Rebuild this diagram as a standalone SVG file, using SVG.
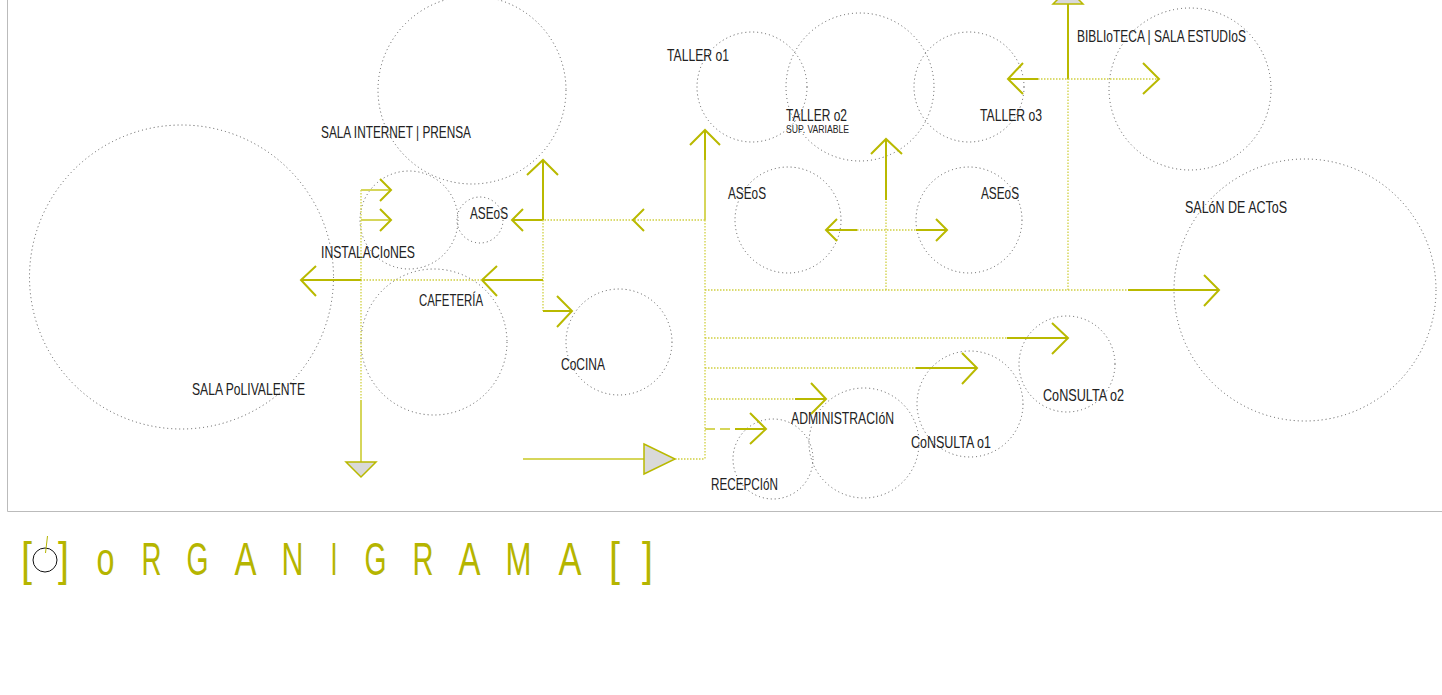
<svg xmlns="http://www.w3.org/2000/svg" width="1442" height="695" viewBox="0 0 1442 695">
<style>
.room{fill:none;stroke:#555;stroke-width:1;stroke-dasharray:1 3}
.lbl{font-family:"Liberation Sans Narrow","Liberation Sans",sans-serif;font-size:17px;fill:#222}
.sm{font-size:11.5px}
.sol{fill:none;stroke:#b9b900;stroke-width:2}
.sol2{fill:none;stroke:#d6d65a;stroke-width:2}
.dot{fill:none;stroke:#d0d040;stroke-width:1.3;stroke-dasharray:1.5 1.5}
.dash{fill:none;stroke:#d6d65a;stroke-width:2;stroke-dasharray:10 5}
.tri{fill:#d9d9d9;stroke:#b9b900;stroke-width:1.5}
.frame{fill:none;stroke:#bbb;stroke-width:1}
.title{font-family:"Liberation Sans Narrow","Liberation Sans",sans-serif;font-size:46px;fill:#b5b500}
</style>
<rect width="1442" height="695" fill="#fff"/>
<path class="frame" d="M7.5,0 V511.5 H1442"/>

<g id="sala-polivalente"><circle class="room" cx="181.5" cy="277" r="152"/><text class="lbl" x="192" y="395" textLength="113" lengthAdjust="spacingAndGlyphs">SALA PoLIVALENTE</text></g>
<g id="sala-internet"><circle class="room" cx="472" cy="90" r="94"/><text class="lbl" x="321" y="138" textLength="150" lengthAdjust="spacingAndGlyphs">SALA INTERNET | PRENSA</text></g>
<g id="instalaciones"><circle class="room" cx="409" cy="220" r="49"/><text class="lbl" x="321" y="258" textLength="94" lengthAdjust="spacingAndGlyphs">INSTALACIoNES</text></g>
<g id="aseos-1"><circle class="room" cx="480" cy="220" r="23"/><text class="lbl" x="470" y="219" textLength="38" lengthAdjust="spacingAndGlyphs">ASEoS</text></g>
<g id="cafeteria"><circle class="room" cx="434" cy="342" r="73"/><text class="lbl" x="419" y="306" textLength="64" lengthAdjust="spacingAndGlyphs">CAFETERÍA</text></g>
<g id="cocina"><circle class="room" cx="619" cy="342" r="53"/><text class="lbl" x="561" y="370" textLength="44" lengthAdjust="spacingAndGlyphs">CoCINA</text></g>
<g id="taller-01"><circle class="room" cx="752" cy="87" r="55"/><text class="lbl" x="667" y="61" textLength="62" lengthAdjust="spacingAndGlyphs">TALLER o1</text></g>
<g id="taller-02"><circle class="room" cx="860" cy="87" r="74"/><text class="lbl" x="786" y="121" textLength="61" lengthAdjust="spacingAndGlyphs">TALLER o2</text><text class="lbl sm" x="786" y="132.5" textLength="63" lengthAdjust="spacingAndGlyphs">SUP. VARIABLE</text></g>
<g id="taller-03"><circle class="room" cx="969" cy="87" r="55"/><text class="lbl" x="980" y="121" textLength="62" lengthAdjust="spacingAndGlyphs">TALLER o3</text></g>
<g id="biblioteca"><circle class="room" cx="1190" cy="89" r="81"/><text class="lbl" x="1077" y="42" textLength="169" lengthAdjust="spacingAndGlyphs">BIBLIoTECA | SALA ESTUDIoS</text></g>
<g id="aseos-2"><circle class="room" cx="788" cy="220" r="53"/><text class="lbl" x="728" y="199" textLength="38" lengthAdjust="spacingAndGlyphs">ASEoS</text></g>
<g id="aseos-3"><circle class="room" cx="969" cy="220" r="53"/><text class="lbl" x="981" y="199" textLength="38" lengthAdjust="spacingAndGlyphs">ASEoS</text></g>
<g id="salon-actos"><circle class="room" cx="1305" cy="290" r="131"/><text class="lbl" x="1185" y="213" textLength="102" lengthAdjust="spacingAndGlyphs">SALóN DE ACToS</text></g>
<g id="consulta-02"><circle class="room" cx="1067" cy="364" r="48"/><text class="lbl" x="1043" y="401" textLength="81" lengthAdjust="spacingAndGlyphs">CoNSULTA o2</text></g>
<g id="consulta-01"><circle class="room" cx="970" cy="404" r="53"/><text class="lbl" x="911" y="448" textLength="80" lengthAdjust="spacingAndGlyphs">CoNSULTA o1</text></g>
<g id="administracion"><circle class="room" cx="864" cy="443" r="55"/><text class="lbl" x="791" y="424" textLength="103" lengthAdjust="spacingAndGlyphs">ADMINISTRACIóN</text></g>
<g id="recepcion"><circle class="room" cx="773" cy="459" r="40"/><text class="lbl" x="711" y="490" textLength="67" lengthAdjust="spacingAndGlyphs">RECEPCIóN</text></g>

<g id="connectors">
<path class="sol2" d="M523,459 H644"/>
<polygon class="tri" points="644,444 675,459 644,474"/>
<path class="dot" d="M675,459 H705"/>
<path class="dot" d="M705,220 V459"/>
<path class="sol2" d="M705,160 V220"/>
<path class="sol" d="M705,130 V160 M690,145 L705,130 L720,145"/>
<path class="dot" d="M705,220 H543"/>
<path class="sol" d="M644,209 L633,220 L644,231"/>
<path class="sol" d="M543,220 V160 M527,175 L543,160 L558,175"/>
<path class="sol" d="M543,220 H512 M523,209 L512,220 L523,231"/>
<path class="dot" d="M543,220 V311"/>
<path class="sol" d="M543,280 H482 M497,266 L482,280 L497,296"/>
<path class="sol" d="M543,311 H572 M557,296 L572,311 L557,327"/>
<path class="dot" d="M482,280 H361"/>
<path class="sol" d="M361,280 H301 M316,266 L301,280 L316,296"/>
<path class="dot" d="M361,190 V400"/>
<path class="sol2" d="M361,190 H391"/>
<path class="sol" d="M380,179 L391,190 L380,201"/>
<path class="sol2" d="M361,220 H391"/>
<path class="sol" d="M380,209 L391,220 L380,231"/>
<path class="sol2" d="M361,400 V462"/>
<polygon class="tri" points="346,462 376,462 361,477"/>
<path class="dot" d="M705,290 H1128"/>
<path class="sol" d="M1128,290 H1219 M1204,275 L1219,290 L1204,306"/>
<path class="dot" d="M886,290 V200"/>
<path class="sol" d="M886,200 V139 M871,154 L886,139 L902,154"/>
<path class="dot" d="M857,230 H916"/>
<path class="sol" d="M857,230 H826 M837,219 L826,230 L837,241"/>
<path class="sol" d="M916,230 H947 M936,219 L947,230 L936,241"/>
<path class="dot" d="M1068,290 V79"/>
<path class="sol" d="M1068,79 V4"/>
<polygon class="tri" points="1053,4 1083,4 1068,-11"/>
<path class="dot" d="M1038,79 H1159"/>
<path class="sol" d="M1038,79 H1008 M1023,63 L1008,79 L1023,94"/>
<path class="sol" d="M1143,63 L1159,79 L1143,94"/>
<path class="dot" d="M705,338 H1007"/>
<path class="sol" d="M1007,338 H1068 M1052,323 L1068,338 L1052,354"/>
<path class="dot" d="M705,368 H916"/>
<path class="sol" d="M916,368 H977 M962,353 L977,368 L962,384"/>
<path class="dot" d="M705,399 H795"/>
<path class="sol" d="M795,399 H826 M811,383 L826,399 L811,414"/>
<path class="dash" d="M705,429 H735"/>
<path class="sol" d="M735,429 H766 M750,413 L766,429 L750,444"/>
</g>

<g id="title">
<text class="title" x="21" y="575" textLength="11" lengthAdjust="spacingAndGlyphs">[</text>
<circle cx="45" cy="560" r="12" fill="none" stroke="#111" stroke-width="1"/>
<path d="M47.5,536 L45.5,553" stroke="#b5b500" stroke-width="1"/>
<text class="title" x="58" y="575" textLength="11" lengthAdjust="spacingAndGlyphs">]</text>
<text class="title" x="96.5" y="575" textLength="18" lengthAdjust="spacingAndGlyphs">o</text>
<text class="title" x="141.5" y="575" textLength="20" lengthAdjust="spacingAndGlyphs">R</text>
<text class="title" x="186.5" y="575" textLength="22" lengthAdjust="spacingAndGlyphs">G</text>
<text class="title" x="234.5" y="575" textLength="22" lengthAdjust="spacingAndGlyphs">A</text>
<text class="title" x="281.5" y="575" textLength="22" lengthAdjust="spacingAndGlyphs">N</text>
<text class="title" x="330.5" y="575" textLength="7" lengthAdjust="spacingAndGlyphs">I</text>
<text class="title" x="364.5" y="575" textLength="22" lengthAdjust="spacingAndGlyphs">G</text>
<text class="title" x="412.5" y="575" textLength="21" lengthAdjust="spacingAndGlyphs">R</text>
<text class="title" x="458.5" y="575" textLength="22" lengthAdjust="spacingAndGlyphs">A</text>
<text class="title" x="505.5" y="575" textLength="26" lengthAdjust="spacingAndGlyphs">M</text>
<text class="title" x="558.5" y="575" textLength="23" lengthAdjust="spacingAndGlyphs">A</text>
<text class="title" x="609" y="575" textLength="11" lengthAdjust="spacingAndGlyphs">[</text>
<text class="title" x="642" y="575" textLength="11" lengthAdjust="spacingAndGlyphs">]</text>
</g>
</svg>
